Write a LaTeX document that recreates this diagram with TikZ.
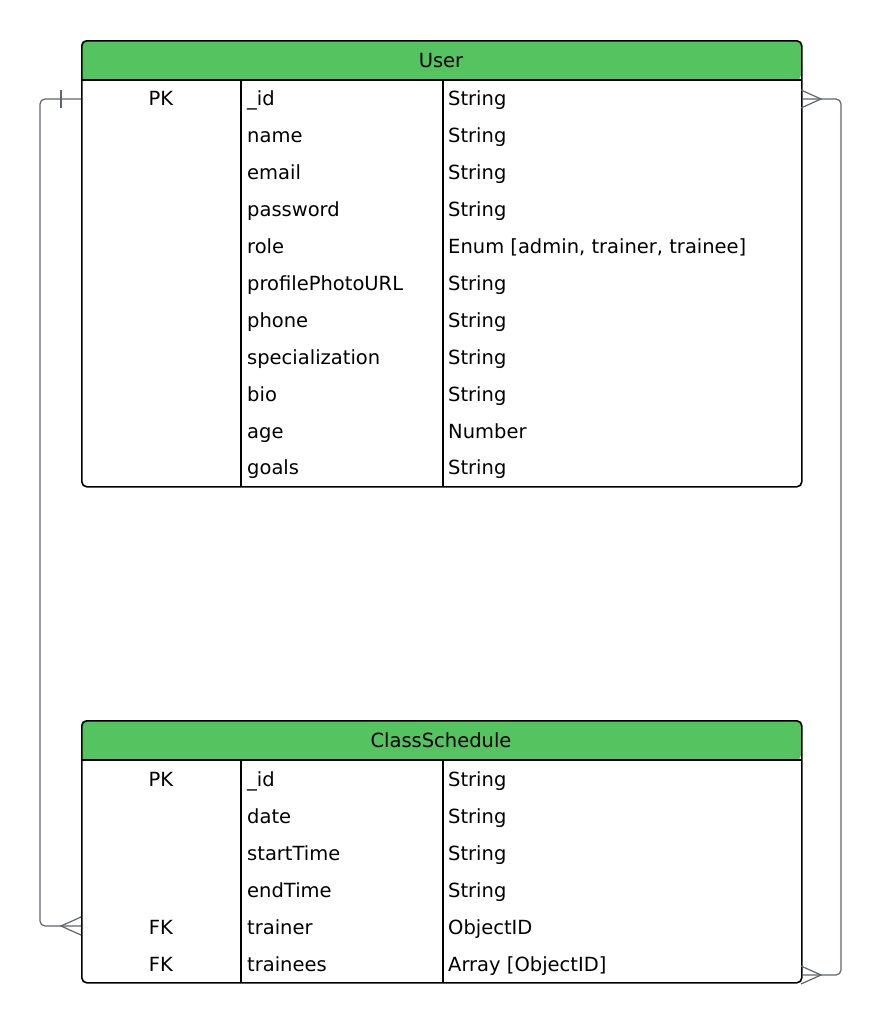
\documentclass[tikz,border=0pt]{standalone}
\usepackage{fontspec}
\setmainfont{DejaVu Sans}
\definecolor{hdr}{RGB}{85,196,96}
\definecolor{connc}{RGB}{95,100,110}
\tikzset{
  tbox/.style={draw=black, line width=1.6pt, rounded corners=5pt, inner sep=0pt, anchor=north west, minimum width=720pt},
  txt/.style={inner sep=0pt, anchor=base west, font=\fontsize{19.5}{21}\selectfont},
  keytxt/.style={inner sep=0pt, anchor=base, font=\fontsize{19.5}{21}\selectfont},
  htxt/.style={inner sep=0pt, anchor=base, font=\fontsize{19.5}{21}\selectfont},
  conn/.style={draw=connc, line width=1.2pt, rounded corners=5pt},
  endmark/.style={draw=connc, line width=1.2pt},
  divider/.style={draw=black, line width=1.6pt}
}
\begin{document}
\begin{tikzpicture}[x=1pt,y=-1pt]
\useasboundingbox (0,0) rectangle (882,1026);
% ---------- User ----------
\fill[hdr, rounded corners=5pt] (81,80) -- (81,40) -- (801,40) -- (801,80) -- cycle;
\node[tbox, minimum height=446pt] (user) at (81,40) {};
\draw[divider] (81,80) -- (801,80);
\draw[divider] (241,80) -- (241,486);
\draw[divider] (443,80) -- (443,486);
\node[htxt] (uh) at (441,67.5) {User};
\foreach \i/\k/\n/\t in {1/PK/\_id/String,2//name/String,3//email/String,4//password/String,5//role/{Enum [admin, trainer, trainee]},6//profilePhotoURL/String,7//phone/String,8//specialization/String,9//bio/String,10//age/Number,11//goals/String}{
  \pgfmathsetmacro{\yy}{80+36.9*(\i-0.5)+7.5}
  \node[keytxt] (uk\i) at (161,\yy) {\k};
  \node[txt] (un\i) at (247,\yy) {\n};
  \node[txt] (ut\i) at (448,\yy) {\t};
}
% ---------- ClassSchedule ----------
\fill[hdr, rounded corners=5pt] (81,760) -- (81,720) -- (801,720) -- (801,760) -- cycle;
\node[tbox, minimum height=262pt] (cs) at (81,720) {};
\draw[divider] (81,760) -- (801,760);
\draw[divider] (241,760) -- (241,982);
\draw[divider] (443,760) -- (443,982);
\node[htxt] (ch) at (441,747.5) {ClassSchedule};
\foreach \i/\k/\n/\t in {1/PK/\_id/String,2//date/String,3//startTime/String,4//endTime/String,5/FK/trainer/ObjectID,6/FK/trainees/{Array [ObjectID]}}{
  \pgfmathsetmacro{\yy}{760+37*(\i-0.5)+7.5}
  \node[keytxt] (ck\i) at (161,\yy) {\k};
  \node[txt] (cn\i) at (247,\yy) {\n};
  \node[txt] (ct\i) at (448,\yy) {\t};
}
% ---------- connectors ----------
\coordinate (a1) at (user.west |- 0,99);
\coordinate (a2) at (cs.west |- 0,926);
\draw[conn] (a1) -- (40,99) -- (40,926) -- (a2);
\draw[endmark] (61,90) -- (61,108);
\draw[endmark] (81,917) -- (61,926) -- (81,935);
\coordinate (b1) at (user.east |- 0,99);
\coordinate (b2) at (cs.east |- 0,975);
\draw[conn] (b1) -- (841,99) -- (841,975) -- (b2);
\draw[endmark] (801,90) -- (821,99) -- (801,108);
\draw[endmark] (801,966) -- (821,975) -- (801,984);
\end{tikzpicture}
\end{document}
